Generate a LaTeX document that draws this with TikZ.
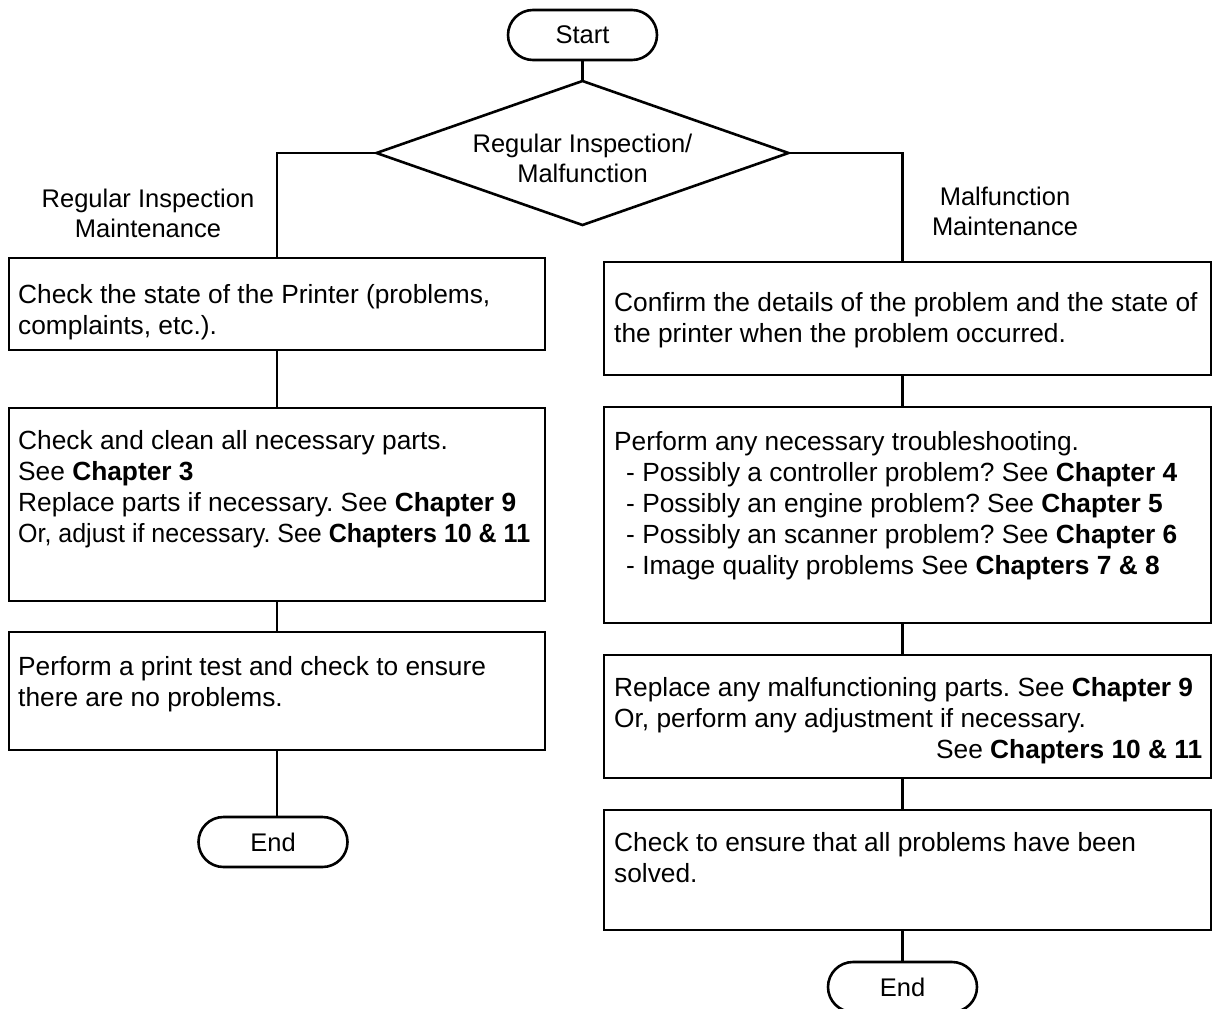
\documentclass[tikz,border=0pt]{standalone}
\usepackage{fontspec}
\setmainfont{Liberation Sans}
\usetikzlibrary{shapes.geometric,shapes.misc}
\begin{document}
\frenchspacing
\begin{tikzpicture}[x=1pt,y=-1pt,
  ln/.style={line width=2.6pt},
  boxn/.style={draw, ln, rectangle, inner sep=0pt, outer sep=0pt, anchor=north west},
  term/.style={draw, ln, rounded rectangle, inner sep=0pt, outer sep=0pt, minimum width=149pt, minimum height=50pt, font=\fontsize{25.5}{30}\selectfont},
  txt/.style={inner sep=0pt, align=left, anchor=north west, font=\fontsize{26.3}{31}\selectfont\frenchspacing},
  ctxt/.style={inner sep=0pt, align=center, font=\fontsize{25.5}{30}\selectfont}]
\useasboundingbox (0,0) rectangle (1218,1009);

% terminals
\node[term] (start) at (582.5,35) {Start};
\node[draw, ln, diamond, inner sep=0pt, outer sep=0pt, minimum width=412pt, minimum height=144pt] (dia) at (582.5,153) {};
\node[ctxt] (diat) at (582.5,158) {Regular Inspection/\\Malfunction};

% labels
\node[ctxt] (lablL) at (148,213) {Regular Inspection\\Maintenance};
\node[ctxt] (lablR) at (1005,211) {Malfunction\\Maintenance};

% left column
\node[boxn, minimum width=536pt, minimum height=92pt] (L1) at (9,258) {};
\node[boxn, minimum width=536pt, minimum height=193pt] (L2) at (9,408) {};
\node[boxn, minimum width=536pt, minimum height=118pt] (L3) at (9,632) {};
\node[term] (endL) at (273,842) {End};

% right column
\node[boxn, minimum width=607pt, minimum height=113pt] (R1) at (604,262) {};
\node[boxn, minimum width=607pt, minimum height=216pt] (R2) at (604,407) {};
\node[boxn, minimum width=607pt, minimum height=123pt] (R3) at (604,655) {};
\node[boxn, minimum width=607pt, minimum height=120pt] (R4) at (604,810) {};
\node[term] (endR) at (902.5,987) {End};

\coordinate (lc) at (277,0);
\coordinate (rc) at (902.5,0);

% texts
\node[txt] (L1t) at ([xshift=9pt,yshift=-26pt]L1.north west) {Check the state of the Printer (problems,\\complaints, etc.).};
\node[txt] (L2t) at ([xshift=9pt,yshift=-22pt]L2.north west) {Check and clean all necessary parts.\\See \textbf{Chapter 3}\\Replace parts if necessary. See \textbf{Chapter 9}\\\scalebox{0.95}[1]{Or, adjust if necessary. See \textbf{Chapters 10 \& 11}}};
\node[txt] (L3t) at ([xshift=9pt,yshift=-24pt]L3.north west) {Perform a print test and check to ensure\\there are no problems.};
\node[txt] (R1t) at ([xshift=10pt,yshift=-30pt]R1.north west) {Confirm the details of the problem and the state of\\the printer when the problem occurred.};
\node[txt] (R2t) at ([xshift=10pt,yshift=-24pt]R2.north west) {Perform any necessary troubleshooting.\\
\hspace*{12pt}- Possibly a controller problem? See \textbf{Chapter 4}\\
\hspace*{12pt}- Possibly an engine problem? See \textbf{Chapter 5}\\
\hspace*{12pt}- Possibly an scanner problem? See \textbf{Chapter 6}\\
\hspace*{12pt}- Image quality problems See \textbf{Chapters 7 \& 8}};
\node[txt] (R3t) at ([xshift=10pt,yshift=-22pt]R3.north west) {Replace any malfunctioning parts. See \textbf{Chapter 9}\\Or, perform any adjustment if necessary.\\\makebox[588pt][r]{See \textbf{Chapters 10 \& 11}}};
\node[txt] (R4t) at ([xshift=10pt,yshift=-22pt]R4.north west) {Check to ensure that all problems have been\\solved.};

% connectors
\draw[ln] (start.south) -- (dia.north);
\draw[ln] (dia.west) -| (L1.north -| lc);
\draw[ln] (dia.east) -| (R1.north -| rc);
\draw[ln] (L1.south -| lc) -- (L2.north -| lc);
\draw[ln] (L2.south -| lc) -- (L3.north -| lc);
\draw[ln] (L3.south -| lc) -- (endL.north -| lc);
\draw[ln] (R1.south -| rc) -- (R2.north -| rc);
\draw[ln] (R2.south -| rc) -- (R3.north -| rc);
\draw[ln] (R3.south -| rc) -- (R4.north -| rc);
\draw[ln] (R4.south -| rc) -- (endR.north);
\end{tikzpicture}
\end{document}
